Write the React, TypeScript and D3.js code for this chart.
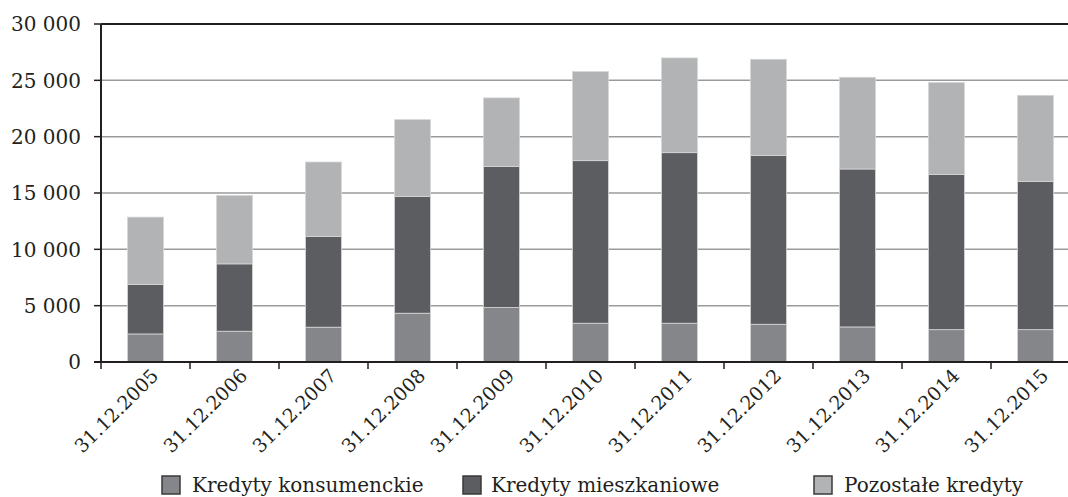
import React from "react";
import * as d3 from "d3";

// Loan portfolio (mln zł) at year end, split by type
const categories = [
  "31.12.2005", "31.12.2006", "31.12.2007", "31.12.2008", "31.12.2009", "31.12.2010",
  "31.12.2011", "31.12.2012", "31.12.2013", "31.12.2014", "31.12.2015",
];
const consumerLoans = [2490, 2730, 3090, 4330, 4830, 3440, 3440, 3350, 3110, 2870, 2870];
const mortgageLoans = [4380, 5980, 8050, 10370, 12530, 14430, 15140, 14990, 14020, 13780, 13160];
const otherLoans = [5990, 6080, 6610, 6810, 6080, 7910, 8410, 8530, 8140, 8150, 7640];
const yTicks = [0, 5000, 10000, 15000, 20000, 25000, 30000];
const seriesNames = ["Kredyty konsumenckie", "Kredyty mieszkaniowe", "Pozostałe kredyty"];

const W = 1068;
const H = 497;
const FONT = "'DejaVu Serif', 'Liberation Serif', serif";
const TEXT = "#231f20";
const COLORS = ["#858689", "#5c5d60", "#b2b3b5"];
const KEYS = ["consumer", "mortgage", "other"];

export default function App() {
  const left = 101;
  const top = 24;
  const bottom = 362;

  const rows = categories.map((c, i) => ({
    cat: c,
    consumer: consumerLoans[i],
    mortgage: mortgageLoans[i],
    other: otherLoans[i],
  }));
  const stacked = d3.stack<any>().keys(KEYS)(rows);

  const x = d3.scaleBand().domain(categories).range([left, left + 89 * categories.length]).paddingInner(0).paddingOuter(0);
  const y = d3.scaleLinear().domain([0, 30000]).range([bottom, top]);
  const barW = 36;
  const fmt = (v: number) => d3.format(",")(v).replace(/,/g, " ");

  const legendItems = [
    { sx: 162, tx: 192 },
    { sx: 463, tx: 491 },
    { sx: 814, tx: 844 },
  ];

  return (
    <svg width={W} height={H} style={{ position: "absolute", left: 0, top: 0, background: "#fff" }} fontFamily={FONT}>
      {/* gridlines */}
      {yTicks.slice(1, -1).map((t) => (
        <line key={t} x1={left} x2={W} y1={y(t)} y2={y(t)} stroke="#9b9b9b" strokeWidth={1.5} />
      ))}
      {/* bars */}
      {stacked.map((s, si) => (
        <g key={s.key} fill={COLORS[si]}>
          {s.map((d, i) => (
            <rect
              key={i}
              x={(x(categories[i]) as number) + x.bandwidth() / 2 - barW / 2}
              y={y(d[1])}
              width={barW}
              height={y(d[0]) - y(d[1])}
              stroke="#d6d6d6"
              strokeWidth={0.8}
            />
          ))}
        </g>
      ))}
      {/* frame: top border, y axis, x axis */}
      <line x1={left} x2={W} y1={y(30000)} y2={y(30000)} stroke="#231f20" strokeWidth={2} />
      <line x1={left} x2={left} y1={top} y2={bottom} stroke="#231f20" strokeWidth={2} />
      <line x1={left - 7} x2={W} y1={bottom} y2={bottom} stroke="#231f20" strokeWidth={2} />
      {/* y ticks and labels */}
      {yTicks.map((t) => (
        <g key={t}>
          <line x1={left - 7} x2={left} y1={y(t)} y2={y(t)} stroke="#231f20" strokeWidth={1.5} />
          <text x={81} y={y(t)} dy="0.36em" textAnchor="end" fontSize={20} fill={TEXT}>
            {fmt(t)}
          </text>
        </g>
      ))}
      {/* x ticks at band boundaries */}
      {categories.map((c) => (
        <line
          key={c}
          x1={x(c) as number}
          x2={x(c) as number}
          y1={bottom}
          y2={bottom + 7}
          stroke="#231f20"
          strokeWidth={1.5}
        />
      ))}
      {/* x labels */}
      {categories.map((c) => {
        const cx = (x(c) as number) + x.bandwidth() / 2 + 14;
        return (
          <text
            key={c}
            transform={`translate(${cx},${bottom + 15}) rotate(-45)`}
            textAnchor="end"
            fontSize={19}
            fill={TEXT}
          >
            {c}
          </text>
        );
      })}
      {/* legend */}
      {legendItems.map((l, i) => (
        <g key={i}>
          <rect x={l.sx} y={476} width={18} height={18} fill={COLORS[i]} stroke="#3a3a3a" strokeWidth={1.5} />
          <text x={l.tx} y={492} fontSize={20} fill={TEXT}>
            {seriesNames[i]}
          </text>
        </g>
      ))}
    </svg>
  );
}
